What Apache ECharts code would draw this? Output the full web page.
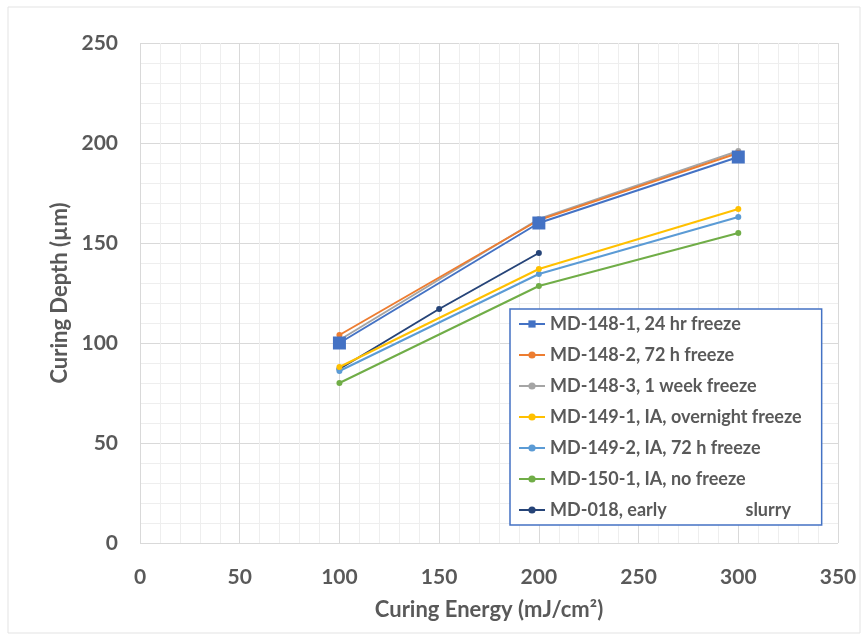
<!DOCTYPE html>
<html>
<head>
<meta charset="utf-8">
<script src="https://cdn.jsdelivr.net/npm/echarts@6/dist/echarts.min.js"></script>
<style>
  html, body { margin: 0; padding: 0; background: #fff; }
  #chart { width: 868px; height: 639px; }
</style>
</head>
<body>
<div id="chart"></div>
<script>
// curing energy (mJ/cm2) vs curing depth (um)
var energy = [100, 200, 300];
var energyMd018 = [100, 150, 200];

var md1481 = [100, 160, 193];
var md1482 = [104, 161.5, 195];
var md1483 = [101.5, 162, 196];
var md1491 = [88, 137, 167];
var md1492 = [86, 134.5, 163];
var md1501 = [80, 128.5, 155];
var md018 = [87, 117, 145];

var seriesNames = [
    'MD-148-1, 24 hr freeze',
    'MD-148-2, 72 h freeze',
    'MD-148-3, 1 week freeze',
    'MD-149-1, IA, overnight freeze',
    'MD-149-2, IA, 72 h freeze',
    'MD-150-1, IA, no freeze',
    'MD-018, early                  slurry'
];
var seriesColors = ['#4472C4', '#ED7D31', '#A5A5A5', '#FFC000', '#5B9BD5', '#70AD47', '#264478'];

var xTicks = [0, 50, 100, 150, 200, 250, 300, 350];
var yTicks = [0, 50, 100, 150, 200, 250];

var textColor = '#595959';
var fontFam = 'Lato, "Open Sans", sans-serif';

function pairs(xs, ys) {
    return xs.map(function (x, i) { return [x, ys[i]]; });
}

function makeSeries(idx, xs, ys, symbol, size) {
    return {
        name: seriesNames[idx],
        type: 'line',
        data: pairs(xs, ys),
        symbol: symbol,
        symbolSize: size,
        showSymbol: true,
        lineStyle: { width: 2, color: seriesColors[idx] },
        itemStyle: { color: seriesColors[idx] },
        z: 10 - idx
    };
}

var chart = echarts.init(document.getElementById('chart'));

var option = {
    animation: false,
    backgroundColor: '#fff',
    graphic: [{
        type: 'rect',
        shape: { x: 8, y: 7, width: 852, height: 626 },
        style: { fill: 'none', stroke: '#e3e3e3', lineWidth: 1 },
        silent: true,
        z: -1
    }],
    grid: { left: 140, top: 43, width: 698, height: 500 },
    legend: {
        orient: 'vertical',
        left: 510,
        top: 309,
        padding: [6, 20, 6, 8],
        itemGap: 13,
        itemWidth: 26,
        itemHeight: 9,
        backgroundColor: '#fff',
        borderColor: '#4472C4',
        borderWidth: 1.5,
        textStyle: { color: textColor, fontSize: 18, fontWeight: 'bold', fontFamily: fontFam },
        data: seriesNames
    },
    xAxis: {
        type: 'value',
        min: 0,
        max: 350,
        interval: 50,
        name: 'Curing Energy (mJ/cm²)',
        nameLocation: 'middle',
        nameGap: 56,
        nameTextStyle: { color: textColor, fontSize: 22, fontWeight: 'bold', fontFamily: fontFam },
        axisLine: { show: false },
        axisTick: { show: false },
        axisLabel: {
            margin: 24,
            color: textColor,
            fontSize: 21,
            fontWeight: 'bold',
            fontFamily: fontFam,
            formatter: function (v) { return xTicks.indexOf(v) >= 0 ? String(v) : ''; }
        },
        splitLine: { show: true, lineStyle: { color: '#d9d9d9', width: 1 } },
        minorTick: { show: false, splitNumber: 5 },
        minorSplitLine: { show: true, lineStyle: { color: '#eeeeee', width: 1 } }
    },
    yAxis: {
        type: 'value',
        min: 0,
        max: 250,
        interval: 50,
        name: 'Curing Depth (µm)',
        nameLocation: 'middle',
        nameGap: 58,
        nameTextStyle: { color: textColor, fontSize: 22, fontWeight: 'bold', fontFamily: fontFam },
        axisLine: { show: false },
        axisTick: { show: false },
        axisLabel: {
            margin: 22,
            color: textColor,
            fontSize: 21,
            fontWeight: 'bold',
            fontFamily: fontFam,
            formatter: function (v) { return yTicks.indexOf(v) >= 0 ? String(v) : ''; }
        },
        splitLine: { show: true, lineStyle: { color: '#d9d9d9', width: 1 } },
        minorTick: { show: false, splitNumber: 5 },
        minorSplitLine: { show: true, lineStyle: { color: '#eeeeee', width: 1 } }
    },
    series: [
        makeSeries(0, energy, md1481, 'rect', 13),
        makeSeries(1, energy, md1482, 'circle', 6),
        makeSeries(2, energy, md1483, 'circle', 6),
        makeSeries(3, energy, md1491, 'circle', 6),
        makeSeries(4, energy, md1492, 'circle', 6),
        makeSeries(5, energy, md1501, 'circle', 6),
        makeSeries(6, energyMd018, md018, 'circle', 6)
    ]
};

chart.setOption(option);
</script>
</body>
</html>
